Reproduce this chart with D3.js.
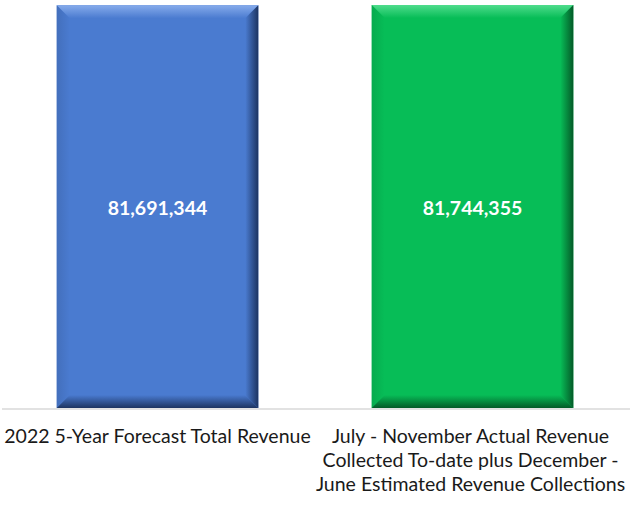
<!DOCTYPE html>
<html>
<head>
<meta charset="utf-8">
<script src="https://cdn.jsdelivr.net/npm/d3@7"></script>
<style>
  body { margin: 0; background: #fff; }
  svg { display: block; }
</style>
</head>
<body>
<div id="chart"></div>
<script>
const categories = ["2022 5-Year Forecast Total Revenue",
    "July - November Actual Revenue Collected To-date plus December - June Estimated Revenue Collections"];
const labelLines = [
    ["2022 5-Year Forecast Total Revenue"],
    ["July - November Actual Revenue", "Collected To-date plus December -", "June Estimated Revenue Collections"]
];
const values = [81691344, 81744355];
const barColors = ["#4a7bd0", "#07bd57"];
const lightColors = ["#86abeb", "#4fdc8c"];
const darkColors = ["#1d3461", "#045a28"];

const width = 638, height = 508,
      margin = ({ top: 5, right: 8, bottom: 100, left: 0 });

let svg = d3.select("#chart")
    .append("svg")
    .attr("width", width)
    .attr("height", height);

let x = d3.scaleBand()
    .domain(categories)
    .range([margin.left, width - margin.right])
    .paddingInner(0.36)
    .paddingOuter(0.18);

let y = d3.scaleLinear()
    .domain([0, 81744355])
    .range([height - margin.bottom, margin.top]);

// gradients for the bevel look
let defs = svg.append("defs");
values.forEach((v, i) => {
    const mk = (id, x1, y1, x2, y2, c1, c2) => {
        let g = defs.append("linearGradient").attr("id", id)
            .attr("x1", x1).attr("y1", y1).attr("x2", x2).attr("y2", y2);
        g.append("stop").attr("offset", "0%").attr("stop-color", c1);
        g.append("stop").attr("offset", "100%").attr("stop-color", c2);
    };
    mk("top" + i, 0, 0, 0, 1, lightColors[i], barColors[i]);
    mk("bot" + i, 0, 0, 0, 1, barColors[i], darkColors[i]);
    mk("rgt" + i, 0, 0, 1, 0, barColors[i], darkColors[i]);
    mk("lft" + i, 0, 0, 1, 0, d3.color(barColors[i]).darker(0.6), barColors[i]);
});

let bar = svg.selectAll(".bar")
    .data(values)
    .join("g")
    .attr("class", "bar");

const b = 13; // bevel size

bar.append("rect")
    .attr("x", (d, i) => x(categories[i]))
    .attr("y", d => y(d))
    .attr("width", x.bandwidth())
    .attr("height", d => y(0) - y(d))
    .attr("fill", (d, i) => barColors[i]);

// bevel edges
bar.each(function(d, i) {
    let g = d3.select(this);
    let x0 = x(categories[i]), x1 = x0 + x.bandwidth(),
        y0 = y(d), y1 = y(0);
    g.append("polygon")
        .attr("points", [[x0, y0], [x1, y0], [x1 - b, y0 + b], [x0 + b, y0 + b]].join(" "))
        .attr("fill", `url(#top${i})`);
    g.append("polygon")
        .attr("points", [[x0, y1], [x1, y1], [x1 - b, y1 - b], [x0 + b, y1 - b]].join(" "))
        .attr("fill", `url(#bot${i})`);
    g.append("polygon")
        .attr("points", [[x1, y0], [x1, y1], [x1 - b, y1 - b], [x1 - b, y0 + b]].join(" "))
        .attr("fill", `url(#rgt${i})`);
    g.append("polygon")
        .attr("points", [[x0, y0], [x0, y1], [x0 + b, y1 - b], [x0 + b, y0 + b]].join(" "))
        .attr("fill", `url(#lft${i})`)
        .attr("opacity", 0.5);
});

bar.append("text") // data labels
    .text(d => d3.format(",")(d))
    .attr("x", (d, i) => x(categories[i]) + x.bandwidth() / 2)
    .attr("y", d => (y(d) + y(0)) / 2 + 8)
    .attr("text-anchor", "middle")
    .style("font-family", "Lato, 'Open Sans', sans-serif")
    .style("font-weight", "bold")
    .style("font-size", "19.5px")
    .style("fill", "#ffffff");

// baseline
svg.append("line")
    .attr("x1", 2)
    .attr("x2", 630)
    .attr("y1", y(0) + 1)
    .attr("y2", y(0) + 1)
    .attr("stroke", "#d9d9d9")
    .attr("stroke-width", 1.5);

// category labels
let lab = svg.selectAll(".cat")
    .data(categories)
    .join("text")
    .attr("class", "cat")
    .attr("text-anchor", "middle")
    .style("font-family", "Lato, 'Open Sans', sans-serif")
    .style("font-size", "19.5px")
    .style("fill", "#1a1a1a");

lab.each(function(c, i) {
    let t = d3.select(this);
    labelLines[i].forEach((line, j) => {
        t.append("tspan")
            .attr("x", x(c) + x.bandwidth() / 2 - i * 2)
            .attr("y", y(0) + 35 + j * 24)
            .text(line);
    });
});
</script>
</body>
</html>
